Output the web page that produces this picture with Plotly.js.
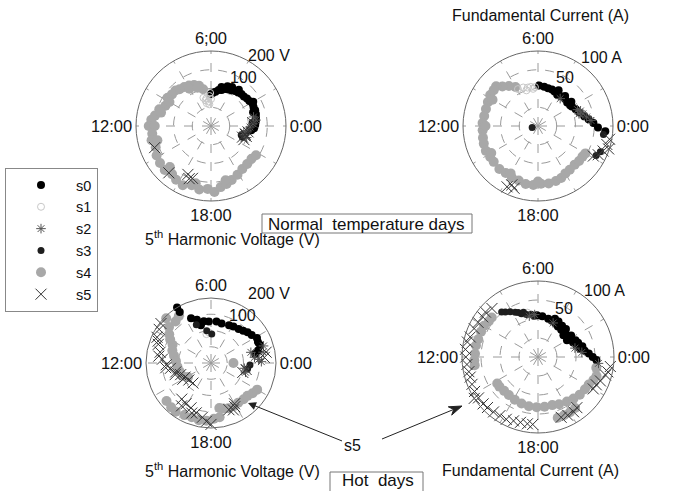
<!DOCTYPE html>
<html><head><meta charset="utf-8">
<script src="https://cdn.plot.ly/plotly-3.0.1.min.js"></script>
<style>html,body{margin:0;padding:0;background:#fff}#chart{width:677px;height:491px}</style>
</head><body><div id="chart"></div>
<script>
// Data: [hour of day, magnitude]
// Plot 1: 5th harmonic voltage (V), normal temperature days
const vN_s0 = [[23.6,108],[23.8,115],[0.1,118],[0.4,120],[0.7,122],[1.0,124],[1.3,125],[1.6,124],[1.9,126],[2.2,122],[2.5,121],[2.8,118],[3.1,118],[3.4,115],[3.7,113],[4.0,110],[4.3,108],[4.6,106],[4.9,100],[5.2,98],[5.5,92],[5.8,88],[6.0,85],[4.5,115],[3.5,122],[2.0,130],[1.2,118],[0.3,112],[5.0,108],[4.1,118]];
const vN_s1 = [[6.0,72],[6.2,80],[6.4,66],[6.6,75],[6.8,70],[7.0,78],[6.3,58],[6.7,62],[6.1,88]];
const vN_s2 = [[0.5,121],[0.2,112],[23.9,104],[23.5,96],[23.3,89],[22.8,100],[0.8,116],[23.0,92]];
const vN_s3 = [[22.7,89],[23.2,95],[23.6,102],[22.9,84]];
const vN_s4 = [[7.1,112],[7.5,118],[7.9,123],[8.3,126],[8.7,129],[9.0,134],[9.4,134],[9.8,138],[10.4,133],[10.8,145],[11.3,152],[11.6,160],[12.0,166],[12.0,150],[12.5,158],[12.9,163],[13.4,158],[13.9,165],[14.4,168],[14.9,170],[15.4,165],[15.8,171],[16.3,175],[16.8,166],[17.3,172],[17.8,168],[18.2,176],[18.6,165],[19.0,160],[19.4,154],[19.9,148],[20.4,142],[20.9,140],[21.4,139],[21.8,143],[11.0,138],[13.0,148],[15.0,155],[17.0,158],[19.0,150],[10.0,128],[8.0,115],[6.8,100],[7.3,108]];
const vN_s5 = [[22.7,89],[23.1,94],[22.9,98],[23.4,100],[0.3,112],[13.4,161],[15.2,168],[16.3,143],[16.7,148],[16.5,152],[22.5,95]];

// Plot 2: fundamental current (A), normal temperature days
const cN_s0 = [[23.7,90],[23.9,80],[0.2,74],[0.5,68],[0.8,63],[1.2,58],[1.6,55],[2.0,52],[2.2,51],[2.6,50],[3.0,51],[3.5,50],[3.9,49],[4.3,51],[4.6,52],[5.0,52],[5.4,53],[5.9,54],[3.2,54],[2.4,55],[4.0,55]];
const cN_s1 = [[6.3,52],[6.7,53],[7.0,53],[7.4,55],[7.9,56],[6.5,50],[7.2,50]];
const cN_s2 = [[1.0,62],[1.3,60],[0.7,66],[1.5,57],[0.4,71],[1.1,57],[3.4,47]];
const cN_s3 = [[22.2,87],[22.5,90],[12.9,8],[23.5,88]];
const cN_s4 = [[8.0,60],[8.4,66],[8.8,71],[9.1,77],[9.4,76],[9.8,76],[10.3,74],[10.8,73],[11.3,73],[11.8,74],[12.3,74],[12.8,75],[13.2,76],[13.7,77],[14.2,76],[14.6,76],[15.2,77],[15.7,76],[16.2,77],[16.7,77],[17.2,79],[17.7,79],[18.2,77],[18.7,78],[19.2,77],[19.6,76],[20.0,73],[20.4,72],[20.9,71],[21.3,72],[21.7,72],[22.0,73],[10.0,70],[12.0,70],[14.0,72],[16.0,73],[18.0,74]];
const cN_s5 = [[23.0,95],[22.8,99],[22.3,89],[22.6,93],[23.3,97],[16.4,86],[16.2,91],[16.6,89],[22.1,84]];

// Plot 3: 5th harmonic voltage (V), hot days
const vH_s0 = [[7.6,151],[7.2,140],[6.65,130],[6.2,128],[5.5,129],[5.0,126],[4.3,129],[3.9,132],[3.4,135],[3.0,140],[2.67,147],[2.3,152],[1.9,161],[1.6,158],[1.35,161],[1.0,150],[0.77,139],[8.1,200],[8.1,184],[7.0,120]];
const vH_s1 = [[6.3,95],[6.6,90]];
const vH_s2 = [[0.78,164],[0.29,147],[23.4,104],[1.0,127],[0.5,135],[23.0,110],[1.2,170],[0.1,155]];
const vH_s3 = [[5.9,89],[6.5,100],[7.4,126],[23.4,114],[23.8,120]];
const vH_s4 = [[9.0,195],[8.7,168],[8.3,175],[9.7,156],[10.3,131],[10.8,125],[11.25,116],[11.8,108],[12.4,104],[13.0,100],[13.6,97],[14.1,83],[14.7,180],[15.2,183],[15.6,185],[16.2,180],[16.7,177],[17.2,180],[17.7,178],[18.2,172],[18.6,169],[18.7,141],[19.0,145],[19.4,149],[19.9,150],[20.3,148],[20.8,150],[21.2,151],[21.6,158],[22.0,164],[0.0,69],[9.3,170],[10.0,145]];
const vH_s5 = [[9.45,196],[9.8,190],[10.3,184],[10.7,172],[11.2,160],[11.7,150],[12.15,138],[12.5,126],[12.95,112],[13.4,100],[13.9,91],[14.5,86],[15.2,83],[10.5,176],[11.5,162],[12.4,140],[13.2,116],[14.0,100],[15.4,143],[15.9,147],[16.4,151],[16.9,160],[17.4,169],[17.7,180],[18.0,189],[15.7,160],[16.6,165],[19.4,154],[19.7,160],[19.9,153],[20.0,145],[22.9,102],[23.3,110],[0.74,173],[0.4,165]];

// Plot 4: fundamental current (A), hot days
const cH_s0 = [[6.1,55],[5.6,54],[5.0,52],[4.6,51],[4.2,50],[3.8,48],[3.3,47],[2.9,47],[2.5,47],[1.9,48],[1.5,50],[1.1,53],[0.8,56],[0.5,62],[0.26,67],[0.0,72],[23.8,77],[3.0,52],[2.2,52],[4.0,54],[1.3,56],[2.0,44],[2.7,44],[3.5,52],[1.6,54],[0.9,60],[4.4,55]];
const cH_s1 = [[7.2,60],[6.9,60]];
const cH_s2 = [[6.8,55],[6.3,56],[4.4,49],[0.4,58],[0.9,50],[23.6,80]];
const cH_s3 = [[8.4,73],[8.1,70],[7.8,66],[7.4,61],[7.0,58],[6.6,57],[8.6,76],[7.6,64],[7.2,62],[6.4,54]];
const cH_s4 = [[9.3,80],[9.6,80],[10.0,82],[10.4,82],[10.9,82],[11.3,83],[11.8,83],[12.2,84],[12.5,84],[14.2,64],[14.5,64],[15.0,63],[15.5,63],[16.1,64],[16.7,65],[17.3,66],[17.9,66],[18.5,66],[19.1,66],[19.6,68],[20.2,70],[20.7,72],[21.2,74],[21.7,75],[22.1,76],[22.5,79],[22.8,81],[19.2,84],[19.6,84],[20.0,84],[20.4,83],[23.3,78]];
const cH_s5 = [[23.5,96],[23.2,94],[23.0,92],[22.6,88],[22.3,85],[22.0,84],[9.3,91],[9.6,90],[10.0,91],[10.4,92],[10.9,93],[11.2,95],[11.6,96],[12.0,95],[12.4,94],[12.8,93],[13.1,93],[13.5,94],[13.9,95],[14.3,95],[14.7,95],[15.0,94],[15.4,93],[15.8,92],[16.2,92],[16.6,90],[17.0,89],[17.4,89],[17.7,89],[19.4,85],[19.8,86],[20.2,86],[20.5,84],[14.2,100],[8.9,88]];

const seriesNames = ['s0','s1','s2','s3','s4','s5'];
const hourTicks = [0,2,4,6,8,10,12,14,16,18,20,22];
const hourLabels = ['0:00','','','6:00','','','12:00','','','18:00','',''];
const hourLabelsP1 = ['0:00','','','6;00','','','12:00','','','18:00','',''];

const FONT = 'Liberation Sans, Arial, sans-serif';
const styles = {
  s0:{symbol:'circle', size:8, color:'#000000'},
  s1:{symbol:'circle-open', size:7, color:'#c8c8c8', line:{width:1,color:'#c8c8c8'}},
  s2:{symbol:'asterisk-open', size:8, color:'#555555', line:{width:1,color:'#555555'}},
  s3:{symbol:'circle', size:7, color:'#1e1e1e'},
  s4:{symbol:'circle', size:10, color:'#a8a8a8'},
  s5:{symbol:'x-thin-open', size:11, color:'#333333', line:{width:1,color:'#333333'}}
};
const drawOrder = ['s4','s0','s1','s3','s2','s5'];

const plots = [
  {sub:'polar',  data:{s0:vN_s0,s1:vN_s1,s2:vN_s2,s3:vN_s3,s4:vN_s4,s5:vN_s5}, legend:true},
  {sub:'polar2', data:{s0:cN_s0,s1:cN_s1,s2:cN_s2,s3:cN_s3,s4:cN_s4,s5:cN_s5}, legend:false},
  {sub:'polar3', data:{s0:vH_s0,s1:vH_s1,s2:vH_s2,s3:vH_s3,s4:vH_s4,s5:vH_s5}, legend:false},
  {sub:'polar4', data:{s0:cH_s0,s1:cH_s1,s2:cH_s2,s3:cH_s3,s4:cH_s4,s5:cH_s5}, legend:false}
];

const traces = [];
plots.forEach(p => {
  drawOrder.forEach(name => {
    const d = p.data[name];
    traces.push({
      type:'scatterpolar', mode:'markers', subplot:p.sub, name:name,
      r: d.map(v => v[1]),
      theta: d.map(v => v[0] * 15),
      marker: styles[name],
      showlegend: p.legend,
      legendrank: seriesNames.indexOf(name) + 1,
      hoverinfo:'skip'
    });
  });
});

const W = 677, H = 491;
function dom(cx, cy, rad) {
  return {x:[(cx-rad)/W,(cx+rad)/W], y:[1-(cy+rad)/H, 1-(cy-rad)/H]};
}
function polar(cx, cy, rad, rmax, grid, labels) {
  return {
    domain: dom(cx, cy, rad), bgcolor:'#ffffff',
    angularaxis:{rotation:0, direction:'counterclockwise', tickmode:'array',
      tickvals: hourTicks.map(h => h*15), ticktext: labels,
      showline:true, linecolor:'#666666', linewidth:1, ticks:'',
      showgrid:true, gridcolor:'#9a9a9a', gridwidth:1, griddash:'dash',
      tickfont:{family:FONT, size:16.5, color:'#111111'}},
    radialaxis:{range:[0,rmax], showticklabels:false, showline:false, ticks:'',
      tickmode:'array', tickvals:grid, showgrid:true, gridcolor:'#9a9a9a', gridwidth:1, griddash:'dash'}
  };
}

function ann(text, x, y, size, extra) {
  return Object.assign({text:text, x:x/W, y:1-y/H, xref:'paper', yref:'paper', showarrow:false,
    font:{family:FONT, size:size||16, color:'#111111'}, xanchor:'center', yanchor:'middle'}, extra||{});
}

// second arrow (s5 -> hot-day current plot), pixel geometry
const tip = [462,406], tail = [382,439];
const len = Math.hypot(tip[0]-tail[0], tip[1]-tail[1]);
const dir = [(tip[0]-tail[0])/len, (tip[1]-tail[1])/len];
const perp = [-dir[1], dir[0]];
function P(x, y) { return (x/W) + ' ' + (1-y/H); }
const w1 = [tip[0]-13*dir[0]+4.5*perp[0], tip[1]-13*dir[1]+4.5*perp[1]];
const w2 = [tip[0]-13*dir[0]-4.5*perp[0], tip[1]-13*dir[1]-4.5*perp[1]];
const notch = [tip[0]-9*dir[0], tip[1]-9*dir[1]];

const layout = {
  width:W, height:H, margin:{l:0,r:0,t:0,b:0}, paper_bgcolor:'#ffffff',
  font:{family:FONT, size:16, color:'#111111'},
  polar:  polar(211,126,75,200,[50,100,150],hourLabelsP1),
  polar2: polar(538,126,75,100,[25,50,75],hourLabels),
  polar3: polar(211,363,65,200,[50,100,150],hourLabels),
  polar4: polar(538,357,76,100,[25,50,75],hourLabels),
  showlegend:true,
  legend:{x:5/W, y:1-168/H, xanchor:'left', yanchor:'top', bgcolor:'#ffffff',
    bordercolor:'#888888', borderwidth:1, font:{family:FONT, size:14.5, color:'#111111'},
    itemwidth:60, traceorder:'normal'},
  annotations:[
    ann('Fundamental Current (A)', 540, 15),
    ann('200 V', 269, 55), ann('100', 243, 78),
    ann('100 A', 601, 58), ann('50', 565, 78),
    ann('200 V', 269, 293), ann('100', 242, 315),
    ann('100 A', 604, 290), ann('50', 564, 308),
    ann('Normal  temperature days', 367, 224, 17),
    ann('5<sup>th</sup> Harmonic Voltage (V)', 232, 238),
    ann('5<sup>th</sup> Harmonic Voltage (V)', 232, 470),
    ann('Fundamental Current (A)', 530, 470),
    ann('Hot  days', 378, 480, 17),
    {text:'s5', x:248/W, y:1-403/H, xref:'paper', yref:'paper', showarrow:true,
      ax:352-248, ay:445-403, arrowhead:2, arrowsize:1.6, arrowwidth:1, arrowcolor:'#222222', standoff:0,
      font:{family:FONT, size:16, color:'#111111'}}
  ],
  shapes:[
    {type:'rect', xref:'paper', yref:'paper', x0:262/W, x1:472/W, y0:1-233/H, y1:1-214/H, line:{color:'#777777', width:1}},
    {type:'rect', xref:'paper', yref:'paper', x0:330/W, x1:423/W, y0:1-495/H, y1:1-472/H, line:{color:'#777777', width:1}},
    {type:'line', xref:'paper', yref:'paper', x0:tail[0]/W, y0:1-tail[1]/H, x1:notch[0]/W, y1:1-notch[1]/H, line:{color:'#222222', width:1}},
    {type:'path', xref:'paper', yref:'paper', fillcolor:'#222222', line:{color:'#222222', width:1},
      path:'M '+P(tip[0],tip[1])+' L '+P(w1[0],w1[1])+' L '+P(notch[0],notch[1])+' L '+P(w2[0],w2[1])+' Z'}
  ]
};

Plotly.newPlot('chart', traces, layout, {staticPlot:true, displayModeBar:false});
</script>
</body></html>
